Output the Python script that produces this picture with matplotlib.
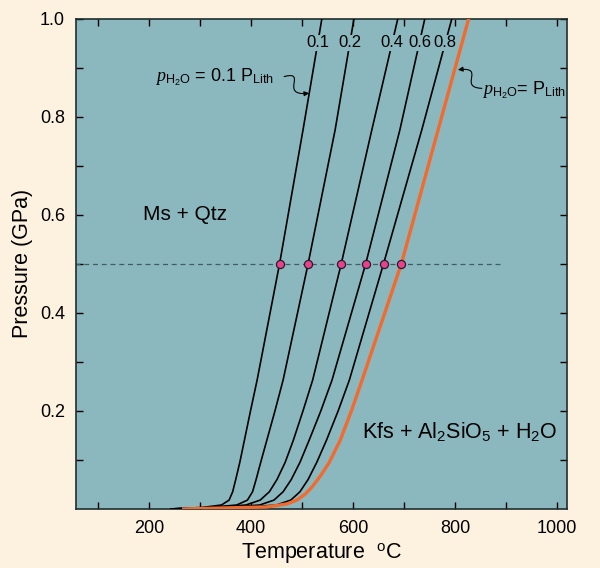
import numpy as np
import matplotlib
matplotlib.use('Agg')
import matplotlib.pyplot as plt
from matplotlib.path import Path
from matplotlib.patches import FancyArrowPatch

plt.rcParams['font.family'] = ['Liberation Sans', 'DejaVu Sans']
plt.rcParams['mathtext.fontset'] = 'custom'
plt.rcParams['mathtext.rm'] = 'Liberation Sans'
plt.rcParams['mathtext.it'] = 'Liberation Serif:italic'

# curves: temperature (C) vs pressure (GPa)
P_black = [0, 0.003, 0.008, 0.018, 0.035, 0.06, 0.095, 0.14, 0.2, 0.263, 0.5, 0.773, 1.0]
T_01 = [243, 305, 342, 357, 364, 370, 378, 387, 399, 412, 456, 502, 539]
T_02 = [243, 318, 372, 393, 403, 410, 419, 431, 447, 463, 512, 565, 602]
T_04 = [243, 330, 390, 418, 436, 451, 467, 483, 502, 521, 577, 637, 688]
T_06 = [243, 350, 417, 445, 463, 479, 496, 514, 537, 559, 625, 692, 741]
T_08 = [243, 380, 450, 478, 496, 512, 529, 548, 571, 593, 660, 735, 794]
black_curves = [T_01, T_02, T_04, T_06, T_08]
curve_labels = ['0.1', '0.2', '0.4', '0.6', '0.8']

P_lith = [0, 0.004, 0.01, 0.018, 0.03, 0.045, 0.07, 0.094, 0.14, 0.2, 0.263, 0.5, 0.773, 1.0]
T_lith = [268, 430, 470, 490, 506, 520, 538, 553, 575, 597, 618, 695, 767, 827]

P_line = 0.5

bg = '#fdf2df'
face = '#8bb8be'

fig = plt.figure(figsize=(6, 5.68), dpi=100, facecolor=bg)
ax = fig.add_axes([0.127, 0.104, 0.818, 0.863])
ax.set_facecolor(face)

ax.plot([55, 888], [P_line, P_line], linestyle=(0, (4, 3)), color='#3e5f63', lw=0.9, zorder=2)

for T in black_curves:
    ax.plot(T, P_black, color='black', lw=1.2, zorder=3)
ax.plot(T_lith, P_lith, color='#f26a2e', lw=2.4, zorder=3)

# points where the curves cross 0.5 GPa
dots_T = [np.interp(P_line, P_black, T) for T in black_curves] + [np.interp(P_line, P_lith, T_lith)]
ax.scatter(dots_T, [P_line] * len(dots_T), s=34, color='#e8438a', edgecolors='#2a1a30',
           linewidths=0.9, zorder=5)

for T, lab in zip(black_curves, curve_labels):
    ax.text(np.interp(0.951, P_black, T), 0.951, lab, ha='center', va='center', fontsize=12,
            bbox=dict(facecolor=face, edgecolor='none', pad=0.5), zorder=4)

ax.text(212, 0.88, r'$\mathit{p}_{\mathrm{H_2O}}$ = 0.1 P$_{\mathrm{Lith}}$', fontsize=13,
        ha='left', va='center')
ax.text(853, 0.855, r'$\mathit{p}_{\mathrm{H_2O}}$= P$_{\mathrm{Lith}}$', fontsize=13,
        ha='left', va='center')

# squiggly arrows
sq1 = Path([(465, 0.882), (512, 0.895), (454, 0.842), (514, 0.848)],
           [Path.MOVETO, Path.CURVE4, Path.CURVE4, Path.CURVE4])
ax.add_patch(FancyArrowPatch(path=sq1, arrowstyle='-|>', mutation_scale=7, color='black', lw=0.8))
sq2 = Path([(853, 0.858), (805, 0.86), (862, 0.902), (806, 0.896)],
           [Path.MOVETO, Path.CURVE4, Path.CURVE4, Path.CURVE4])
ax.add_patch(FancyArrowPatch(path=sq2, arrowstyle='-|>', mutation_scale=7, color='black', lw=0.8))

ax.text(271, 0.6, 'Ms + Qtz', fontsize=15, ha='center', va='center')
ax.text(810, 0.157, r'Kfs + Al$_2$SiO$_5$ + H$_2$O', fontsize=15.5, ha='center', va='center')

ax.set_xlim(57, 1020)
ax.set_ylim(0, 1.0)
ax.set_xticks(np.arange(100, 1001, 100))
ax.set_xticklabels(['' if t % 200 else str(t) for t in range(100, 1001, 100)])
ax.set_yticks(np.arange(0.1, 1.01, 0.1))
ax.set_yticklabels(['%.1f' % v if i % 2 else '' for i, v in enumerate(np.arange(0.1, 1.01, 0.1))])
ax.tick_params(direction='in', length=5, width=1, top=True, right=True, labelsize=13, pad=8)
for s in ax.spines.values():
    s.set_linewidth(1.2)
    s.set_color('#1f2f30')

ax.set_xlabel(r'Temperature  $^{\mathrm{o}}$C', fontsize=15.5, labelpad=3)
ax.set_ylabel('Pressure (GPa)', fontsize=15.5, labelpad=5)

fig.savefig('out.png', dpi=100, facecolor=bg)
